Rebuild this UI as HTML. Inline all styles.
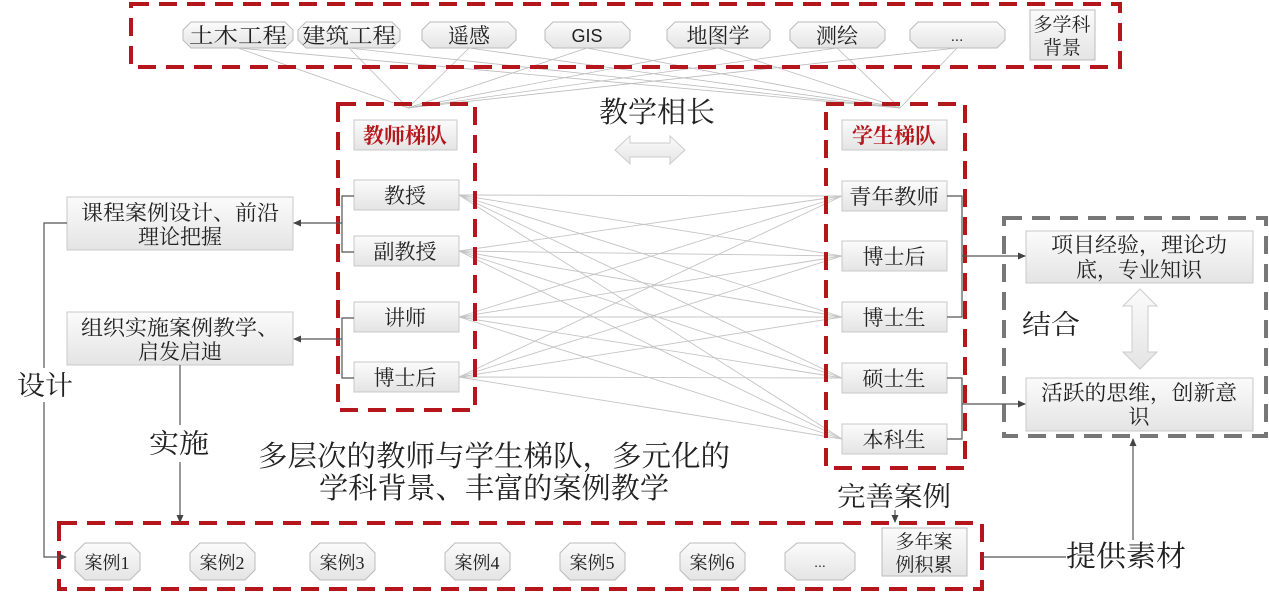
<!DOCTYPE html>
<html><head><meta charset="utf-8"><style>
html,body{margin:0;padding:0;background:#fff}
svg{display:block}
text{font-family:"Liberation Serif","Noto Serif CJK SC",serif;fill:#222}
.s{font-family:"Liberation Sans","Noto Sans CJK SC",sans-serif}
</style></head><body>
<svg width="1269" height="594" viewBox="0 0 1269 594" xmlns="http://www.w3.org/2000/svg">
<defs>
<linearGradient id="g" x1="0" y1="0" x2="0" y2="1"><stop offset="0" stop-color="#fbfbfb"/><stop offset="1" stop-color="#e4e4e4"/></linearGradient>
<marker id="a" markerWidth="8" markerHeight="8" refX="7" refY="4" orient="auto" markerUnits="userSpaceOnUse"><path d="M0,0.5 L8,4 L0,7.5z" fill="#444"/></marker>
</defs>
<g stroke="#bbb" stroke-width="0.8">
<line x1="238" y1="48" x2="408" y2="108"/><line x1="238" y1="48" x2="900" y2="108"/>
<line x1="349" y1="48" x2="408" y2="108"/><line x1="349" y1="48" x2="900" y2="108"/>
<line x1="469" y1="48" x2="408" y2="108"/><line x1="469" y1="48" x2="900" y2="108"/>
<line x1="587" y1="48" x2="408" y2="108"/><line x1="587" y1="48" x2="900" y2="108"/>
<line x1="718" y1="48" x2="408" y2="108"/><line x1="718" y1="48" x2="900" y2="108"/>
<line x1="837" y1="48" x2="408" y2="108"/><line x1="837" y1="48" x2="900" y2="108"/>
<line x1="957" y1="48" x2="408" y2="108"/><line x1="957" y1="48" x2="900" y2="108"/>
</g>
<g stroke="#c4c4c4" stroke-width="0.9">
<line x1="459" y1="195" x2="842" y2="196"/><line x1="459" y1="195" x2="842" y2="256"/><line x1="459" y1="195" x2="842" y2="317"/><line x1="459" y1="195" x2="842" y2="378"/><line x1="459" y1="195" x2="842" y2="439"/>
<line x1="459" y1="251" x2="842" y2="196"/><line x1="459" y1="251" x2="842" y2="256"/><line x1="459" y1="251" x2="842" y2="317"/><line x1="459" y1="251" x2="842" y2="378"/><line x1="459" y1="251" x2="842" y2="439"/>
<line x1="459" y1="317" x2="842" y2="196"/><line x1="459" y1="317" x2="842" y2="256"/><line x1="459" y1="317" x2="842" y2="317"/><line x1="459" y1="317" x2="842" y2="378"/><line x1="459" y1="317" x2="842" y2="439"/>
<line x1="459" y1="377" x2="842" y2="196"/><line x1="459" y1="377" x2="842" y2="256"/><line x1="459" y1="377" x2="842" y2="317"/><line x1="459" y1="377" x2="842" y2="378"/><line x1="459" y1="377" x2="842" y2="439"/>
</g>
<g fill="none" stroke="#b5161c" stroke-width="4" stroke-dasharray="18,10">
<rect x="131" y="4" width="989" height="63"/>
<rect x="338" y="104" width="137" height="306"/>
<rect x="826" y="104" width="139" height="364"/>
<rect x="59" y="523" width="923" height="66"/>
</g>
<rect x="1004" y="218" width="262" height="218" fill="none" stroke="#777" stroke-width="4" stroke-dasharray="18,10"/>
<g fill="url(#g)" stroke="#bbb">
<polygon points="191,22 285,22 293,30 293,40 285,48 191,48 183,40 183,30"/>
<polygon points="306,22 392,22 400,30 400,40 392,48 306,48 298,40 298,30"/>
<polygon points="430,22 508,22 516,30 516,40 508,48 430,48 422,40 422,30"/>
<polygon points="553,22 622,22 630,30 630,40 622,48 553,48 545,40 545,30"/>
<polygon points="675,22 762,22 770,30 770,40 762,48 675,48 667,40 667,30"/>
<polygon points="798,22 877,22 885,30 885,40 877,48 798,48 790,40 790,30"/>
<polygon points="918,22 997,22 1005,30 1005,40 997,48 918,48 910,40 910,30"/>
<rect x="1030" y="10" width="65" height="50"/>
</g>
<g font-size="21" text-anchor="middle">
<text x="238" y="43" textLength="98" lengthAdjust="spacingAndGlyphs">土木工程</text><text x="349" y="43" textLength="94" lengthAdjust="spacingAndGlyphs">建筑工程</text><text x="469" y="43">遥感</text>
<text x="587" y="42" class="s" font-size="18">GIS</text><text x="718" y="43">地图学</text><text x="837" y="43">测绘</text>
<text x="957" y="41" class="s" font-size="15">...</text>
<text x="1062" y="31" font-size="19">多学科</text><text x="1062" y="54" font-size="19">背景</text>
</g>
<text x="657" y="122" font-size="29" text-anchor="middle">教学相长</text>
<polygon points="615,150 630,136 630,143 670,143 670,136 685,150 670,164 670,157 630,157 630,164" fill="url(#g)" stroke="#ccc"/>
<g fill="url(#g)" stroke="#c8c8c8">
<rect x="354" y="120" width="103" height="30"/>
<rect x="354" y="180" width="105" height="30"/><rect x="354" y="236" width="105" height="30"/>
<rect x="354" y="302" width="105" height="30"/><rect x="354" y="362" width="105" height="30"/>
<rect x="842" y="120" width="105" height="30"/>
<rect x="842" y="181" width="105" height="30"/><rect x="842" y="241" width="105" height="30"/>
<rect x="842" y="302" width="105" height="30"/><rect x="842" y="363" width="105" height="30"/><rect x="842" y="424" width="105" height="30"/>
<rect x="67" y="197" width="226" height="53"/><rect x="67" y="312" width="226" height="53"/>
<rect x="1026" y="231" width="227" height="52"/><rect x="1026" y="378" width="227" height="53"/>
</g>
<g font-size="21" text-anchor="middle">
<text x="405" y="143" font-weight="bold" style="fill:#b5161c">教师梯队</text>
<text x="405" y="203">教授</text><text x="405" y="259">副教授</text><text x="405" y="325">讲师</text><text x="405" y="385">博士后</text>
<text x="894" y="143" font-weight="bold" style="fill:#b5161c">学生梯队</text>
<text x="894" y="204" textLength="90" lengthAdjust="spacingAndGlyphs">青年教师</text><text x="894" y="264">博士后</text><text x="894" y="325">博士生</text><text x="894" y="386">硕士生</text><text x="894" y="447">本科生</text>
<text x="180" y="220" textLength="198" lengthAdjust="spacingAndGlyphs">课程案例设计、前沿</text><text x="180" y="244">理论把握</text>
<text x="180" y="335" textLength="198" lengthAdjust="spacingAndGlyphs">组织实施案例教学、</text><text x="180" y="359">启发启迪</text>
<text x="1139" y="252" textLength="176" lengthAdjust="spacingAndGlyphs">项目经验，理论功</text><text x="1139" y="277">底，专业知识</text>
<text x="1139" y="400" textLength="196" lengthAdjust="spacingAndGlyphs">活跃的思维，创新意</text><text x="1139" y="424">识</text>
</g>
<g fill="none" stroke="#555" stroke-width="1.2">
<path d="M354,196 H342 V252 H354"/><path d="M342,223 H294" marker-end="url(#a)"/>
<path d="M354,318 H342 V378 H354"/><path d="M342,339 H294" marker-end="url(#a)"/>
<path d="M947,196 H962 V317 H947"/><path d="M962,256 H1025" marker-end="url(#a)"/>
<path d="M947,378 H962 V439 H947"/><path d="M962,404 H1025" marker-end="url(#a)"/>
<path d="M67,223 H44 V368"/><path d="M44,402 V557 H66" marker-end="url(#a)"/>
<path d="M180,365 V425"/><path d="M180,462 V522" marker-end="url(#a)"/>
<path d="M895,510 V522" marker-end="url(#a)"/>
<path d="M982,557 H1066"/>
<path d="M1133,540 V439" marker-end="url(#a)"/>
</g>
<polygon points="1140,289 1157,306 1148,306 1148,352 1157,352 1140,369 1123,352 1132,352 1132,306 1123,306" fill="url(#g)" stroke="#ccc"/>
<g font-size="27">
<text x="17" y="395" textLength="56" lengthAdjust="spacingAndGlyphs">设计</text>
<text x="149" y="453" textLength="60" lengthAdjust="spacingAndGlyphs">实施</text>
<text x="1022" y="334" textLength="58" lengthAdjust="spacingAndGlyphs">结合</text>
<text x="837" y="506" textLength="114" lengthAdjust="spacingAndGlyphs">完善案例</text>
<text x="1066" y="566" font-size="29" textLength="120" lengthAdjust="spacingAndGlyphs">提供素材</text>
<text x="494" y="466" text-anchor="middle" font-size="29" textLength="472" lengthAdjust="spacingAndGlyphs">多层次的教师与学生梯队，多元化的</text>
<text x="494" y="498" text-anchor="middle" font-size="29" textLength="350" lengthAdjust="spacingAndGlyphs">学科背景、丰富的案例教学</text>
</g>
<g fill="url(#g)" stroke="#bbb">
<polygon points="85,543 130,543 140,553 140,570 130,580 85,580 75,570 75,553"/>
<polygon points="200,543 245,543 255,553 255,570 245,580 200,580 190,570 190,553"/>
<polygon points="320,543 365,543 375,553 375,570 365,580 320,580 310,570 310,553"/>
<polygon points="455,543 500,543 510,553 510,570 500,580 455,580 445,570 445,553"/>
<polygon points="570,543 615,543 625,553 625,570 615,580 570,580 560,570 560,553"/>
<polygon points="690,543 735,543 745,553 745,570 735,580 690,580 680,570 680,553"/>
<polygon points="797,543 843,543 855,553 855,570 843,580 797,580 785,570 785,553"/>
<rect x="882" y="528" width="85" height="48"/>
</g>
<g font-size="18" text-anchor="middle">
<text x="107" y="569">案例1</text><text x="222" y="569">案例2</text><text x="342" y="569">案例3</text>
<text x="477" y="569">案例4</text><text x="592" y="569">案例5</text><text x="712" y="569">案例6</text>
<text x="820" y="567" class="s" font-size="14">...</text>
<text x="924" y="548" font-size="19">多年案</text><text x="924" y="571" font-size="19">例积累</text>
</g>
</svg>
</body></html>
